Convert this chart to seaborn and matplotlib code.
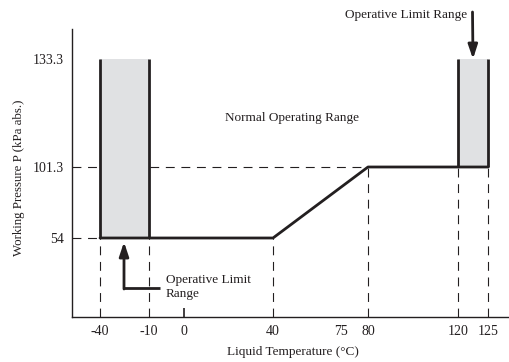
import numpy as np
import pandas as pd
import matplotlib
matplotlib.use("Agg")
import matplotlib.pyplot as plt
import seaborn as sns

# ---- data ----
curve_temp = [-40, 40, 80, 125]
curve_press = [54, 54, 101.3, 101.3]
low_limit_temp = [-40, -10]
high_limit_temp = [120, 125]
p_low = 54
p_mid = 101.3
p_high = 133.3
x_ticks = [-40, -10, 0, 40, 75, 80, 120, 125]
x_tick_labels = ["-40", "-10", "0", "40", "75", "80", "120", "125"]
y_ticks = [54, 101.3, 133.3]
y_tick_labels = ["54", "101.3", "133.3"]
label_normal = "Normal Operating Range"
label_limit = "Operative Limit Range"
label_limit_2 = "Operative Limit\nRange"
x_label = "Liquid Temperature (\u00b0C)"
y_label = "Working Pressure P (kPa abs.)"

# ---- schematic (non-linear) axis scales ----
xk_val = np.array([-60, -40, -10, 0, 40, 75, 80, 120, 125, 140], dtype=float)
xk_pos = np.array([72, 100, 149, 184, 273, 341, 368, 458, 488, 509], dtype=float)
yk_val = np.array([0, 54, 101.3, 133.3, 160], dtype=float)
yk_pos = np.array([45, 124, 195, 303, 333], dtype=float)

def xf(v):
    return np.interp(v, xk_val, xk_pos)
def xi(p):
    return np.interp(p, xk_pos, xk_val)
def yf(v):
    return np.interp(v, yk_val, yk_pos)
def yi(p):
    return np.interp(p, yk_pos, yk_val)

sns.set_theme(style="white")
plt.rcParams["font.family"] = ["Liberation Serif", "DejaVu Serif"]
INK = "#231f20"
GRAY = "#e0e1e3"

fig = plt.figure(figsize=(5.10, 3.62), dpi=100)
ax = fig.add_axes([72 / 510, 45 / 362, 437 / 510, 288 / 362])
ax.set_xscale("function", functions=(xf, xi))
ax.set_yscale("function", functions=(yf, yi))
ax.set_xlim(-60, 140)
ax.set_ylim(0, 160)

dash = (0, (8, 6))
dlw = 0.8
# horizontal dashed guides
ax.plot([-60, low_limit_temp[0]], [p_low, p_low], color=INK, lw=dlw, ls=dash, zorder=1)
ax.plot([-60, curve_temp[2]], [p_mid, p_mid], color=INK, lw=dlw, ls=dash, zorder=1)
# vertical dashed guides
for t in low_limit_temp + [curve_temp[1]]:
    ax.plot([t, t], [0, p_low], color=INK, lw=dlw, ls=dash, zorder=1)
for t in [curve_temp[2]] + high_limit_temp:
    ax.plot([t, t], [0, p_mid], color=INK, lw=dlw, ls=dash, zorder=1)

# limit ranges
ax.fill_between(low_limit_temp, p_low, p_high, color=GRAY, lw=0, zorder=2)
ax.fill_between(high_limit_temp, p_mid, p_high, color=GRAY, lw=0, zorder=2)
ax.vlines(low_limit_temp, p_low, p_high, color=INK, lw=2.0, zorder=3)
ax.vlines(high_limit_temp, p_mid, p_high, color=INK, lw=2.0, zorder=3)

# operating curve
df = pd.DataFrame({"temp": curve_temp, "press": curve_press})
sns.lineplot(data=df, x="temp", y="press", sort=False, estimator=None,
             color=INK, lw=2.0, ax=ax, zorder=3)

# ticks
ax.set_xticks(x_ticks)
ax.set_xticklabels(x_tick_labels)
ax.set_yticks(y_ticks)
ax.set_yticklabels(y_tick_labels)
ax.xaxis.set_minor_locator(matplotlib.ticker.NullLocator())
ax.yaxis.set_minor_locator(matplotlib.ticker.NullLocator())
ax.tick_params(axis="x", which="major", length=0, pad=6, labelsize=10, labelcolor=INK)
ax.tick_params(axis="y", which="major", length=0, pad=6, labelsize=10, labelcolor=INK)
# the single inward tick mark at 0 °C (about 9 px tall)
ax.vlines([x_ticks[2]], 0, yi(45 + 9), color=INK, lw=1.2, zorder=5)

ax.set_xlabel(x_label, fontsize=9.5, color=INK)
ax.xaxis.set_label_coords(0.505, -0.10)
ax.set_ylabel(y_label, fontsize=9.3, color=INK)
ax.yaxis.set_label_coords(-0.108, 0.483)

for s in ["top", "right"]:
    ax.spines[s].set_visible(False)
for s in ["left", "bottom"]:
    ax.spines[s].set_color(INK)
    ax.spines[s].set_linewidth(1.0)

# annotations
def fx(px):
    return (px - 72) / 437
def fy(py):
    return (317 - py) / 288

ax.text(fx(292), fy(118), label_normal, ha="center", va="center",
        fontsize=9.5, color=INK, transform=ax.transAxes)

ax.text(fx(467), fy(15), label_limit, ha="right", va="center",
        fontsize=9.5, color=INK, transform=ax.transAxes, clip_on=False)
ax.annotate("", xy=(122.5, p_high), xycoords="data",
            xytext=(fx(472.5), fy(12)), textcoords="axes fraction",
            arrowprops=dict(arrowstyle="-|>,head_length=0.6,head_width=0.2",
                            color=INK, lw=2.0, mutation_scale=14,
                            shrinkA=0, shrinkB=0),
            annotation_clip=False)

ax.plot([fx(160), fx(124)], [fy(288), fy(288)], color=INK, lw=2.0,
        transform=ax.transAxes, solid_capstyle="butt", zorder=4)
ax.annotate("", xy=(fx(124), fy(242)), xycoords="axes fraction",
            xytext=(fx(124), fy(289)), textcoords="axes fraction",
            arrowprops=dict(arrowstyle="-|>,head_length=0.6,head_width=0.2",
                            color=INK, lw=2.0, mutation_scale=14,
                            shrinkA=0, shrinkB=0))
ax.text(fx(166), fy(287), label_limit_2, ha="left", va="center",
        fontsize=9.5, color=INK, transform=ax.transAxes, linespacing=1.3)

fig.savefig("out.png", dpi=100)
